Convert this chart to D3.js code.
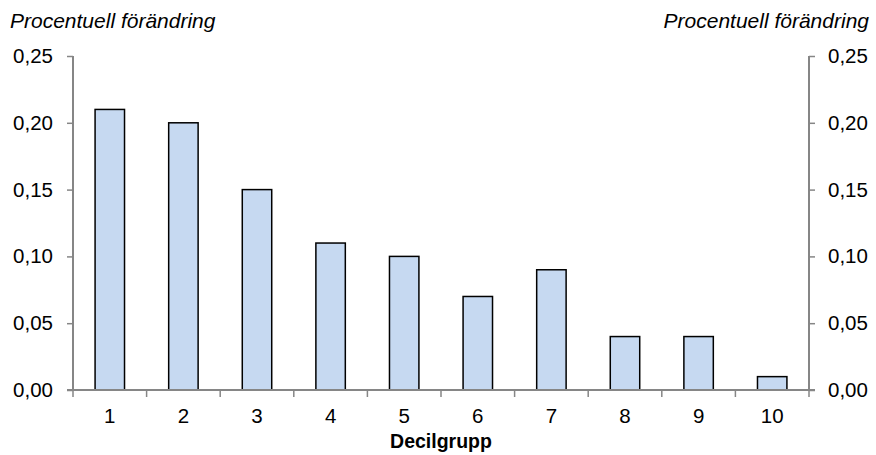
<!DOCTYPE html>
<html><head><meta charset="utf-8">
<script src="https://cdn.jsdelivr.net/npm/d3@7"></script>
<style>body{margin:0;background:#fff}svg{display:block}text{font-family:"Liberation Sans",Arial,sans-serif}</style>
</head><body><svg id="c" width="876" height="455"></svg>
<script>
const categories = ["1","2","3","4","5","6","7","8","9","10"];
const values = [0.21,0.20,0.15,0.11,0.10,0.07,0.09,0.04,0.04,0.01];
const yTicks = [0,0.05,0.10,0.15,0.20,0.25];
const yTitle = "Procentuell förändring";
const xTitle = "Decilgrupp";

const svg = d3.select("#c");
const L = 73, R = 809, T = 56, B = 390;
const x = d3.scaleBand().domain(categories).range([L, R]).paddingInner(0.6).paddingOuter(0.3);
const xb = d3.scaleBand().domain(categories).range([L, R]);
const y = d3.scaleLinear().domain([0, 0.25]).range([B, T]);
const fmt = d => d.toFixed(2).replace(".", ",");
const axisColor = "#868686";
const FS = 20.5;

svg.selectAll("rect.bar").data(values).join("rect")
  .attr("x", (d,i) => x(categories[i]))
  .attr("width", x.bandwidth())
  .attr("y", d => y(d))
  .attr("height", d => y(0) - y(d))
  .attr("fill", "#c6d9f1").attr("stroke", "#000").attr("stroke-width", 1.5);

const gl = svg.append("g").attr("transform", `translate(${L},0)`)
  .call(d3.axisLeft(y).tickValues(yTicks).tickFormat(fmt).tickSize(6).tickPadding(14));
const gr = svg.append("g").attr("transform", `translate(${R},0)`)
  .call(d3.axisRight(y).tickValues(yTicks).tickFormat(fmt).tickSize(6).tickPadding(13));
[gl, gr].forEach(g => {
  g.attr("font-size", FS).attr("font-family", "Liberation Sans, Arial, sans-serif");
  g.select(".domain").attr("stroke", axisColor).attr("stroke-width", 2).attr("d", `M0,${T}V${B}`);
  g.selectAll(".tick line").attr("stroke", axisColor).attr("stroke-width", 1.5);
  g.selectAll(".tick text").attr("fill", "#000");
});

const gx = svg.append("g").attr("transform", `translate(0,${B})`);
gx.append("line").attr("x1", L - 6).attr("x2", R + 6).attr("y1", 0).attr("y2", 0)
  .attr("stroke", axisColor).attr("stroke-width", 2);
const bounds = categories.map(c => xb(c)).concat([R]);
gx.selectAll("line.t").data(bounds).join("line")
  .attr("x1", d => d).attr("x2", d => d).attr("y1", 0).attr("y2", 7)
  .attr("stroke", axisColor).attr("stroke-width", 1.5);
gx.selectAll("text.xl").data(categories).join("text")
  .attr("x", d => xb(d) + xb.bandwidth()/2).attr("y", 33)
  .attr("text-anchor", "middle").attr("font-size", FS).text(d => d);

svg.append("text").attr("x", 441).attr("y", 448).attr("text-anchor", "middle")
  .attr("font-size", 19.5).attr("font-weight", "bold").text(xTitle);
svg.append("text").attr("x", 10).attr("y", 28).attr("font-size", 21).attr("font-style", "italic").text(yTitle);
svg.append("text").attr("x", 869).attr("y", 28).attr("text-anchor", "end").attr("font-size", 21).attr("font-style", "italic").text(yTitle);
</script></body></html>
